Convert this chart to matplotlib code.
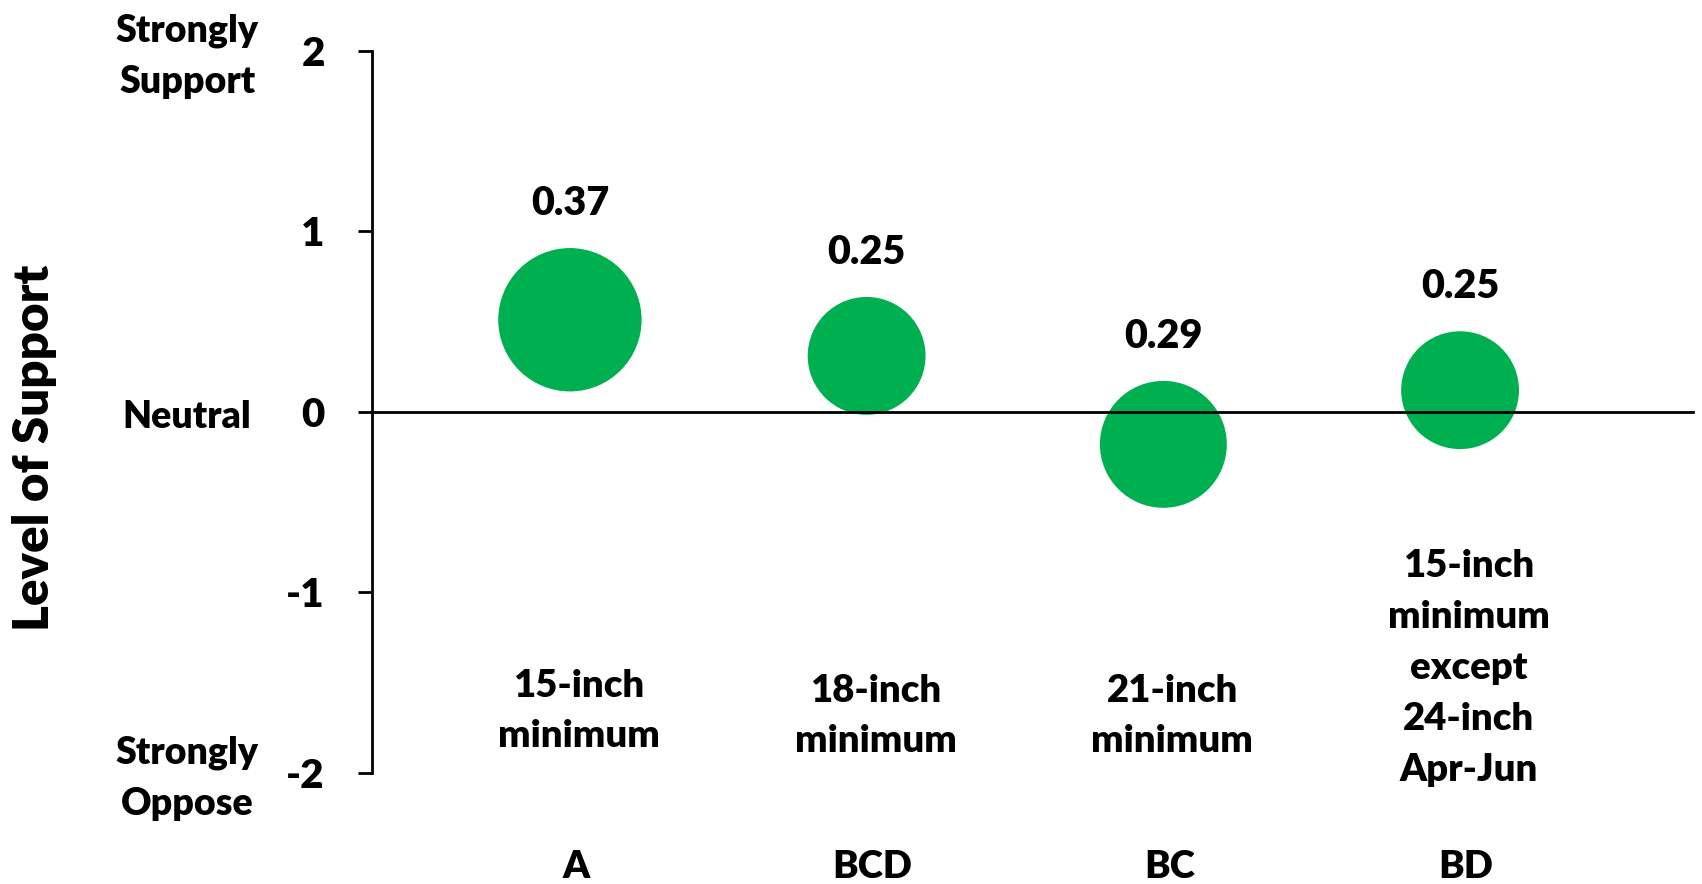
import matplotlib.pyplot as plt
import matplotlib.transforms as mtransforms
import numpy as np

plt.rcParams['font.family'] = ['Lato', 'DejaVu Sans']
plt.rcParams['font.weight'] = 'heavy'
plt.rcParams['axes.unicode_minus'] = False

groups = ["A", "BCD", "BC", "BD"]
options = ["15-inch\nminimum", "18-inch\nminimum", "21-inch\nminimum",
           "15-inch\nminimum\nexcept\n24-inch\nApr-Jun"]
support = [0.51, 0.31, -0.18, 0.12]
bubble = [0.37, 0.25, 0.29, 0.25]
scale_labels = {2: "Strongly\nSupport", 0: "Neutral", -2: "Strongly\nOppose"}

green = "#00B050"
W, H = 1702, 884

fig = plt.figure(figsize=(W / 100, H / 100), dpi=100)
ax = fig.add_axes([372 / W, 1 - 773 / H, (1693 - 372) / W, (773 - 50.7) / H])

x = np.arange(1, len(groups) + 1)
sizes = np.array(bubble) * 28800
ax.scatter(x, support, s=sizes, color=green, edgecolors="none", zorder=2)

# value labels sitting above each bubble
for xi, yi, si, b in zip(x, support, sizes, bubble):
    ax.annotate(f"{b:.2f}", (xi, yi), xytext=(0, np.sqrt(si) / 2 + 32),
                textcoords="offset points", ha="center", va="center",
                fontsize=28.5, fontweight="heavy")

ax.set_xlim(0.333, 4.785)
ax.set_ylim(-2, 2)

ax.spines["top"].set_visible(False)
ax.spines["right"].set_visible(False)
ax.spines["bottom"].set_position(("data", 0))
ax.spines["bottom"].set_zorder(3)
for s in ("left", "bottom"):
    ax.spines[s].set_linewidth(2)
ax.set_xticks([])
ax.set_yticks([-2, -1, 0, 1, 2])
ax.tick_params(axis="y", direction="out", length=10, width=2, pad=24,
               labelsize=29)

# descriptive scale labels next to the y ticks
ytrans = mtransforms.blended_transform_factory(fig.transFigure, ax.transData)
ytrans = ytrans + mtransforms.ScaledTranslation(0, -5.5 / 100, fig.dpi_scale_trans)
for val, txt in scale_labels.items():
    ax.text(187 / W, val, txt, transform=ytrans, ha="center", va="center",
            fontsize=27, fontweight="heavy", linespacing=1.6)

fig.text(35 / W, 1 - 448 / H, "Level of Support", rotation=90,
         ha="center", va="center", fontsize=35.5, fontweight="heavy")

# option descriptions and group letters under the plot
xtrans = mtransforms.blended_transform_factory(ax.transData, fig.transFigure)
opt_y = [711, 716, 716, 668]
for xi, txt, oy in zip(x, options, opt_y):
    ax.text(xi + 0.03, 1 - oy / H, txt, transform=xtrans, ha="center",
            va="center", fontsize=27.5, fontweight="heavy", linespacing=1.6)
for xi, g in zip(x, groups):
    ax.text(xi + 0.02, 1 - 867 / H, g, transform=xtrans, ha="center",
            va="center", fontsize=27.5, fontweight="heavy")

fig.savefig("out.png", dpi=100)
